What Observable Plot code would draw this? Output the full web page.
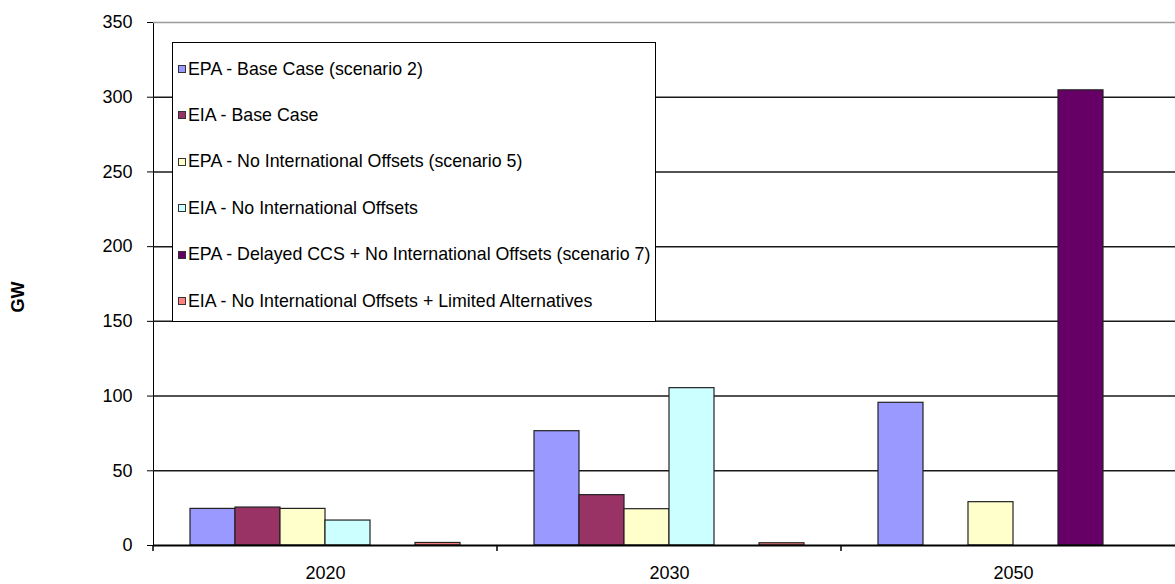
<!DOCTYPE html>
<html>
<head>
<meta charset="utf-8">
<script src="https://cdn.jsdelivr.net/npm/d3@7"></script>
<script src="https://cdn.jsdelivr.net/npm/@observablehq/plot@0.6"></script>
<style>
  html, body { margin: 0; padding: 0; background: #fff; }
  #wrap { position: relative; width: 1175px; height: 584px; overflow: hidden;
          font-family: "Liberation Sans", Arial, sans-serif; color: #000; }
  #wrap svg { display: block; }
  #ylabel { position: absolute; left: 17.5px; top: 297px; font-weight: bold; font-size: 18px;
            transform: translate(-50%, -50%) rotate(-90deg); white-space: nowrap; }
  #legend { position: absolute; left: 172px; top: 42px; width: 484px; height: 280px;
            box-sizing: border-box; border: 1.5px solid #000; background: #fff; }
  #legend .row { position: absolute; left: 4.5px; height: 22px; display: flex; align-items: center;
                 font-size: 17.8px; white-space: nowrap; }
  #legend .key { width: 6px; height: 6px; border: 1px solid #333; margin-right: 2.5px; flex: none; }
</style>
</head>
<body>
<div id="wrap">
  <div id="ylabel">GW</div>
  <div id="legend"></div>
</div>
<script>
// Scenario years (categories)
const years = ["2020", "2030", "2050"];

// Scenario series names, in legend order
const series = [
  "EPA - Base Case (scenario 2)",
  "EIA - Base Case",
  "EPA - No International Offsets (scenario 5)",
  "EIA - No International Offsets",
  "EPA - Delayed CCS + No International Offsets (scenario 7)",
  "EIA - No International Offsets + Limited Alternatives"
];

// Capacity (GW) per series, one value per year; null = not reported
const epaBase        = [24.5, 76.5, 95.5];
const eiaBase        = [25.4, 33.7, null];
const epaNoOffsets   = [24.5, 24.3, 29];
const eiaNoOffsets   = [16.7, 105.3, null];
const epaDelayedCCS  = [null, null, 304.6];
const eiaLimitedAlts = [1.7, 1.5, null];

const seriesValues = [epaBase, eiaBase, epaNoOffsets, eiaNoOffsets, epaDelayedCCS, eiaLimitedAlts];

// Y axis ticks
const yTicks = [0, 50, 100, 150, 200, 250, 300, 350];

// Series fill colours
const colors = ["#9999FF", "#993366", "#FFFFCC", "#CCFFFF", "#660066", "#FF8080"];

// Long table for Plot
const rows = [];
years.forEach((year, i) => {
  series.forEach((s, j) => {
    const v = seriesValues[j][i];
    if (v != null) rows.push({year, series: s, value: v});
  });
});

const chart = Plot.plot({
  width: 1175,
  height: 584,
  marginLeft: 153,
  marginRight: 0,
  marginTop: 22,
  marginBottom: 39,
  style: {fontFamily: "'Liberation Sans', Arial, sans-serif", fontSize: "18px", color: "#000", background: "transparent", overflow: "visible"},
  facet: {data: rows, x: "year", marginTop: 0, marginRight: 0, marginBottom: 0, marginLeft: 0, label: null},
  fx: {domain: years, range: [153, 1185], padding: 0, label: null, tickSize: 0, tickPadding: 21, axis: "bottom"},
  x: {domain: series, paddingInner: 0, paddingOuter: 0.766, axis: null},
  y: {domain: [0, 350], ticks: yTicks, tickSize: 6, tickPadding: 15, label: null, line: true},
  color: {domain: series, range: colors},
  marks: [
    Plot.ruleY(yTicks.filter(t => t > 0 && t < 350), {stroke: "#1a1a1a", strokeWidth: 1.5}),
    Plot.ruleY([350], {stroke: "#9a9a9a", strokeWidth: 1.5}),
    Plot.barY(rows, {x: "series", y: "value", fill: "series", stroke: "#222", strokeWidth: 1.2}),
    Plot.ruleY([0], {stroke: "#000", strokeWidth: 2})
  ]
});

const wrap = document.getElementById("wrap");
wrap.insertBefore(chart, wrap.firstChild);

// Category boundary tick marks on the x axis
const fx = chart.scale("fx");
const y = chart.scale("y");
const y0 = y.apply(0);
const edges = years.map(yr => fx.apply(yr)).concat([fx.apply(years[years.length - 1]) + fx.bandwidth]);
d3.select(chart).append("g")
  .selectAll("line").data(edges).join("line")
  .attr("x1", d => d).attr("x2", d => d)
  .attr("y1", y0).attr("y2", y0 + 6)
  .attr("stroke", "#000").attr("stroke-width", 1.5);

// Legend
const legend = d3.select("#legend");
series.forEach((s, i) => {
  const row = legend.append("div").attr("class", "row").style("top", (26 + i * 46.4 - 11) + "px");
  row.append("div").attr("class", "key").style("background", colors[i]);
  row.append("span").text(s);
});
</script>
</body>
</html>
